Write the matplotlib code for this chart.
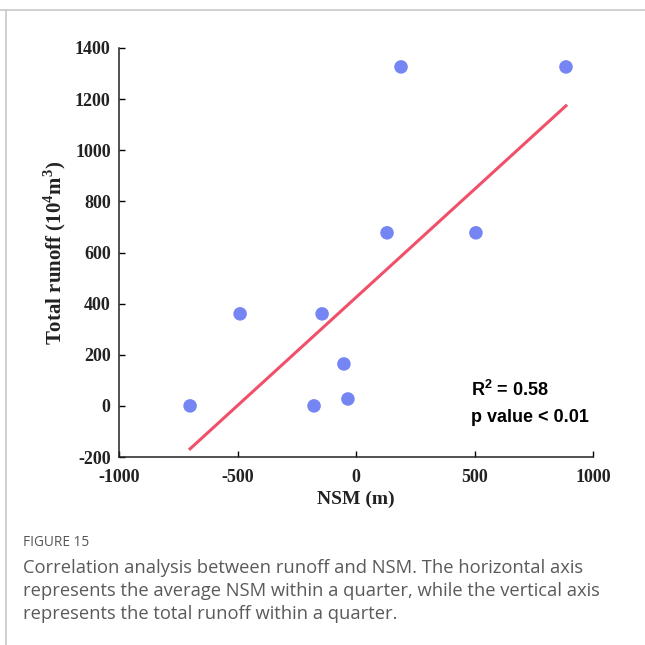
import matplotlib
matplotlib.use("Agg")
import matplotlib.pyplot as plt
from matplotlib.lines import Line2D

# === Data ===
nsm = [-700, -489, -143, -51, -177, -34, 131, 190, 506, 886]
runoff = [0, 360, 360, 164, 0, 27, 677, 1326, 677, 1326]

# fitted line end points
fit_x = [-700, 886]
fit_y = [-168, 1174]

x_ticks = [-1000, -500, 0, 500, 1000]
y_ticks = [-200, 0, 200, 400, 600, 800, 1000, 1200, 1400]

caption_title = "FIGURE 15"
caption_lines = [
    "Correlation analysis between runoff and NSM. The horizontal axis",
    "represents the average NSM within a quarter, while the vertical axis",
    "represents the total runoff within a quarter.",
]

plt.rcParams["axes.unicode_minus"] = False
plt.rcParams["mathtext.fontset"] = "custom"
plt.rcParams["mathtext.bf"] = "Liberation Serif:bold"
plt.rcParams["mathtext.rm"] = "Liberation Serif:bold"
plt.rcParams["mathtext.sf"] = "Liberation Sans:bold"

# === Figure ===
fig = plt.figure(figsize=(6.45, 6.45), dpi=100)
W, H = 645, 645

# page frame (top and left rules)
fig.add_artist(Line2D([0, 1], [1 - 9.5 / H, 1 - 9.5 / H], transform=fig.transFigure,
                      color="#c8c8c8", lw=1.2))
fig.add_artist(Line2D([5.5 / W, 5.5 / W], [0, 1 - 9.5 / H], transform=fig.transFigure,
                      color="#c8c8c8", lw=1.2))

ax = fig.add_axes([119 / W, 1 - 457 / H, (593 - 119) / W, (457 - 48) / H])

ax.scatter(nsm, runoff, s=95, color="#7585f3", edgecolors="none", zorder=3)
ax.plot(fit_x, fit_y, color="#f0506a", lw=2.2, zorder=2)

ax.set_xlim(-1000, 1000)
ax.set_ylim(-200, 1400)
ax.set_xticks(x_ticks)
ax.set_yticks(y_ticks)

serif = "Liberation Serif"
for lab in ax.get_xticklabels() + ax.get_yticklabels():
    lab.set_fontfamily(serif)
    lab.set_fontweight("bold")
    lab.set_fontsize(13)
    lab.set_color("#222222")

ax.tick_params(axis="y", direction="in", length=4, width=1, pad=6)
ax.tick_params(axis="x", direction="in", length=4, width=1, pad=9)
for side in ["top", "right"]:
    ax.spines[side].set_visible(False)
for side in ["left", "bottom"]:
    ax.spines[side].set_linewidth(1.1)
    ax.spines[side].set_color("#222222")

ax.set_xlabel("NSM (m)", fontfamily=serif, fontweight="bold", fontsize=14,
              color="#222222", labelpad=3)
ax.set_ylabel(r"Total runoff (10$^{\mathbf{4}}$m$^{\mathbf{3}}$)", fontfamily=serif,
              fontweight="bold", fontsize=15, color="#222222", labelpad=5)

ax.text(0.742, 0.163, r"$\mathsf{R^2}$ = 0.58", transform=ax.transAxes,
        fontfamily="Liberation Sans", fontweight="bold", fontsize=13, va="center")
ax.text(0.742, 0.097, "p value < 0.01", transform=ax.transAxes,
        fontfamily="Liberation Sans", fontweight="bold", fontsize=13, va="center")

# === Caption ===
fig.text(23 / W, 1 - 543 / H, caption_title, fontfamily="Open Sans", fontsize=9.8,
         color="#555555", va="center")
for i, line in enumerate(caption_lines):
    fig.text(23 / W, 1 - (568 + 23 * i) / H, line, fontfamily="Open Sans",
             fontsize=13.2, color="#5a5a5a", va="center")

fig.savefig("out.png", dpi=100, facecolor="white")
